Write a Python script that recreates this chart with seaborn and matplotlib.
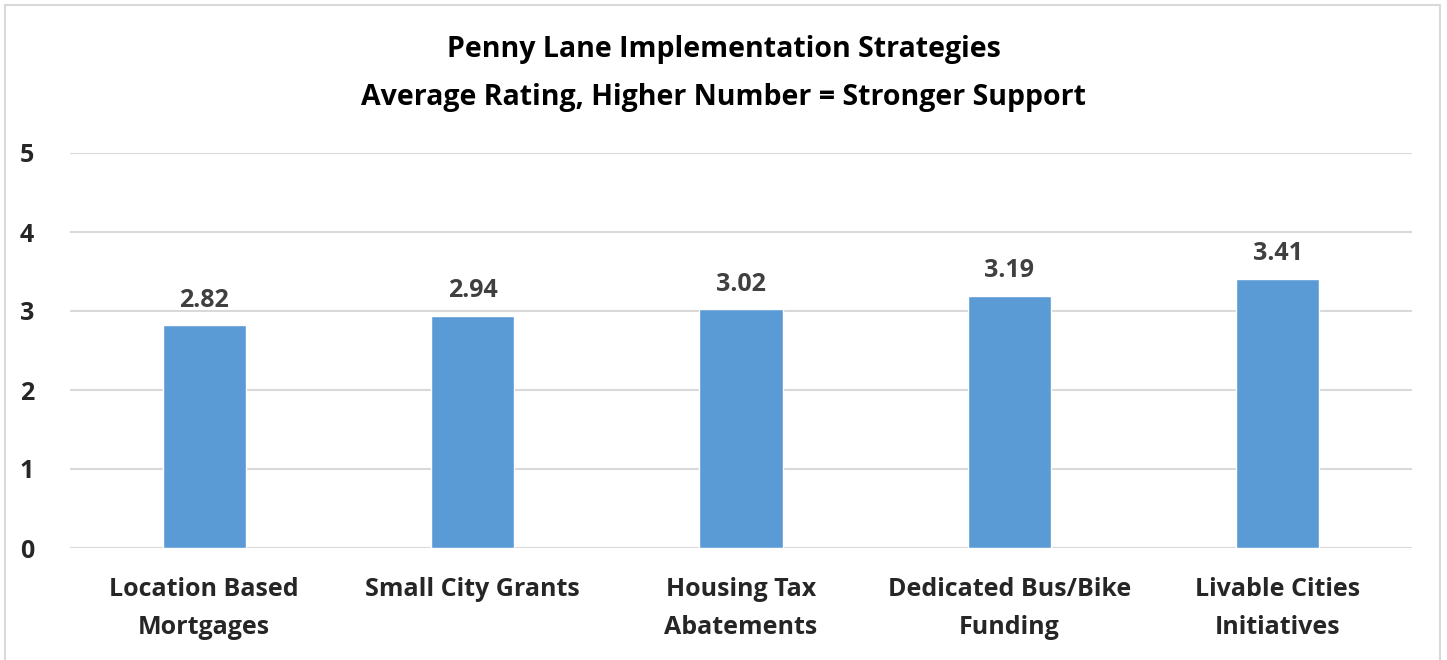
import pandas as pd
import matplotlib.pyplot as plt
import seaborn as sns
from matplotlib.patches import Rectangle

categories = ["Location Based\nMortgages", "Small City Grants", "Housing Tax\nAbatements",
              "Dedicated Bus/Bike\nFunding", "Livable Cities\nInitiatives"]
ratings = [2.82, 2.94, 3.02, 3.19, 3.41]
yticks = [0, 1, 2, 3, 4, 5]

sns.set_theme(style="white")
plt.rcParams["font.family"] = ["Open Sans", "DejaVu Sans"]

df = pd.DataFrame({"strategy": categories, "rating": ratings})

fig = plt.figure(figsize=(14.47, 6.6), dpi=100)
ax = fig.add_axes([70 / 1447, 112 / 660, 1342 / 1447, 395 / 660])

sns.barplot(data=df, x="strategy", y="rating", color="#5B9BD5", width=0.31,
            saturation=1, ax=ax, zorder=3)

ax.set_ylim(0, 5)
ax.set_yticks(yticks)
ax.set_yticklabels([str(t) for t in yticks], fontsize=18, fontweight="bold")
ax.tick_params(axis="y", length=0, pad=26)
ax.tick_params(axis="x", length=0, pad=21, labelsize=18)
for lab in ax.get_xticklabels():
    lab.set_fontweight("bold")
    lab.set_linespacing(1.7)
ax.grid(axis="y", color="#D9D9D9", linewidth=1.5, zorder=0)
ax.set_axisbelow(True)
sns.despine(ax=ax, left=True, bottom=True, top=True, right=True)
ax.set_xlabel("")
ax.set_ylabel("")

for i, v in enumerate(ratings):
    ax.annotate(f"{v:.2f}", (i, v), xytext=(0, 9), textcoords="offset points",
                ha="center", va="bottom", fontsize=18, fontweight="bold", color="#404040")

fig.text(0.5, 1 - 50 / 660, "Penny Lane Implementation Strategies",
         ha="center", va="center", fontsize=20.5, fontweight="bold", color="black")
fig.text(0.5, 1 - 97 / 660, "Average Rating, Higher Number = Stronger Support",
         ha="center", va="center", fontsize=20.5, fontweight="bold", color="black")

fig.patches.append(Rectangle((5 / 1447, -0.05), 1435 / 1447, 1.05 - 5 / 660,
                             transform=fig.transFigure, fill=False,
                             edgecolor="#D9D9D9", linewidth=1.5))

fig.savefig("out.png", dpi=100)
